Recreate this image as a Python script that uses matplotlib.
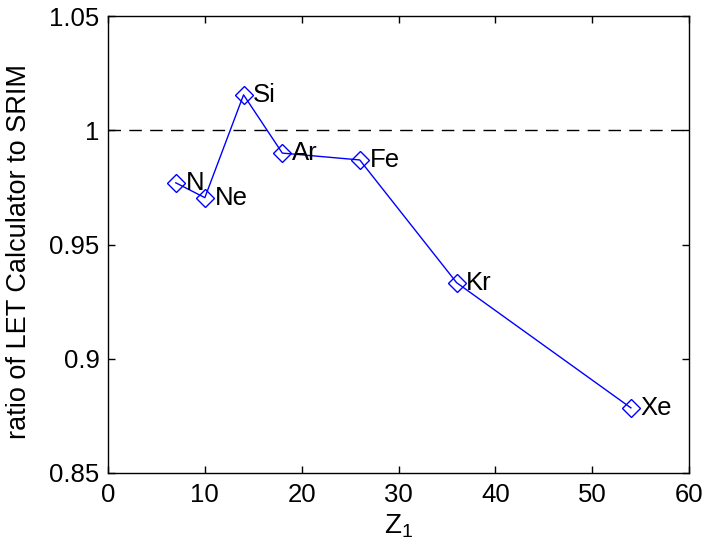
import matplotlib
matplotlib.use("Agg")
import matplotlib.pyplot as plt

# ion charge number and LET ratio (LET Calculator / SRIM)
z1 = [7, 10, 14, 18, 26, 36, 54]
ratio = [0.977, 0.9705, 1.0155, 0.990, 0.987, 0.9333, 0.8785]
ions = ["N", "Ne", "Si", "Ar", "Fe", "Kr", "Xe"]

xticks = [0, 10, 20, 30, 40, 50, 60]
yticks = [0.85, 0.9, 0.95, 1.0, 1.05]
ytick_labels = ["0.85", "0.9", "0.95", "1", "1.05"]

plt.rcParams["font.family"] = ["Liberation Sans", "DejaVu Sans"]
plt.rcParams["mathtext.default"] = "regular"
fs = 18.5

fig = plt.figure(figsize=(7.06, 5.52), dpi=100)
ax = fig.add_axes([108 / 706, 1 - 473 / 552, (689 - 108) / 706, (473 - 16) / 552])

ax.plot([0, 60], [1, 1], color="black", lw=1.0, dashes=(9, 6))
ax.plot(z1, ratio, color="blue", lw=1.0, marker="D", markersize=9.5,
        markerfacecolor="none", markeredgecolor="blue", markeredgewidth=1.0)
for x, y, name in zip(z1, ratio, ions):
    ax.text(x + 1, y, name, fontsize=fs, va="center", ha="left")

ax.set_xlim(0, 60)
ax.set_ylim(0.85, 1.05)
ax.set_xticks(xticks)
ax.set_yticks(yticks)
ax.set_yticklabels(ytick_labels)
ax.tick_params(direction="in", length=5, width=1, labelsize=fs,
               top=True, right=True)
ax.tick_params(axis="x", pad=7)
ax.tick_params(axis="y", pad=6)
for s in ax.spines.values():
    s.set_linewidth(1.0)

ax.set_xlabel("$Z_1$", fontsize=fs + 1.5, labelpad=4)
ax.set_ylabel("ratio of LET Calculator to SRIM", fontsize=19.5)
ax.yaxis.set_label_coords(-0.13, 0.484)

fig.savefig("out.png", dpi=100)
